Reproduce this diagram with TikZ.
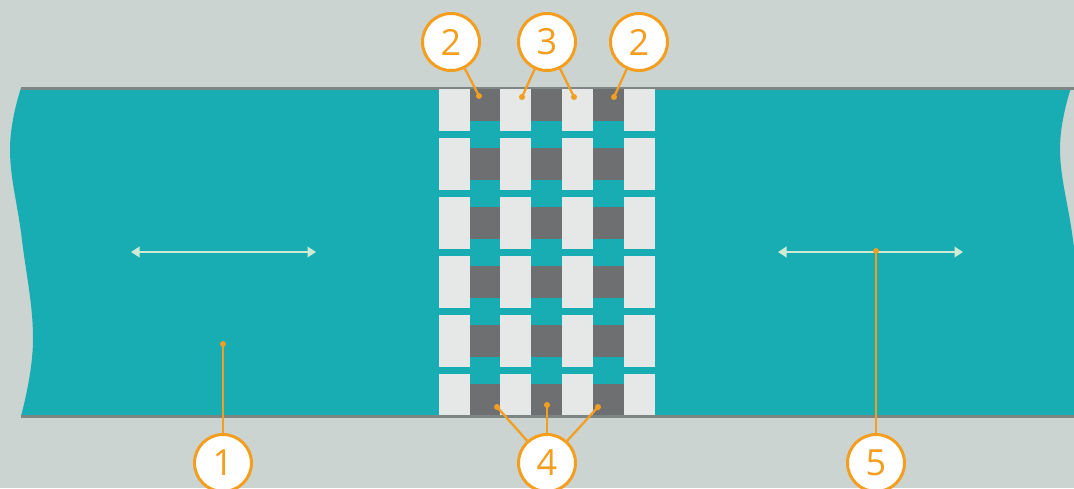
\documentclass[tikz,border=0pt]{standalone}
\usepackage{fontspec}
\setmainfont{Open Sans}
\usetikzlibrary{arrows.meta}
\definecolor{bgcol}{HTML}{CBD4D1}
\definecolor{beltcol}{HTML}{17ADB2}
\definecolor{edgecol}{HTML}{7E8585}
\definecolor{warpcol}{HTML}{E6E7E7}
\definecolor{weftcol}{HTML}{6E6F71}
\definecolor{callcol}{HTML}{F49E1F}
\definecolor{arrowcol}{HTML}{CFEBD5}
\tikzset{
  callout/.style={circle, draw=callcol, line width=1.7pt, fill=white, minimum size=1.14cm, inner sep=0pt, text=callcol, font=\fontsize{20.5}{24}\selectfont},
  leader/.style={draw=callcol, line width=1.3pt},
  tipdot/.style={fill=callcol},
  motion/.style={draw=arrowcol, line width=1.1pt, {Triangle[length=0.17cm, width=0.21cm]}-{Triangle[length=0.17cm, width=0.21cm]}},
}

\begin{document}
\begin{tikzpicture}[x=0.02cm, y=-0.02cm]
  \useasboundingbox (0,0) rectangle (1074,488);
  \fill[bgcol] (0,0) rectangle (1074,488);
  % belt with wavy cut ends
  \begin{scope}
    \clip (0,0) rectangle (1074,488);
    \fill[beltcol] plot[smooth, tension=0.7] coordinates {(21,416) (33,340) (22,240) (10,150) (21,88)}
      -- plot[smooth, tension=0.7] coordinates {(1071,88) (1060,150) (1073,240) (1085,340) (1078,416)} -- cycle;
    \draw[edgecol, line width=1.7pt] (21,88) -- (1074,88);
    \draw[edgecol, line width=1.7pt] (21,416) -- (1074,416);
  \end{scope}
  % splice: weft strips under warp blocks
  \begin{scope}
    \clip (439,89.5) rectangle (655,414.5);
    \foreach \k in {0,...,5}
      \fill[weftcol] (439,89+59*\k) rectangle (655,121+59*\k);
    \foreach \x in {439,500,562,624}
      \foreach \k in {0,...,5}
        \fill[warpcol] (\x,79+59*\k) rectangle (\x+31,131+59*\k);
  \end{scope}
  % motion arrows
  \coordinate (l1) at (131,252);
  \coordinate (l2) at (316,252);
  \coordinate (r1) at (778,252);
  \coordinate (r2) at (963,252);
  \draw[motion] (l1) -- (l2);
  \draw[motion] (r1) -- (r2);
  % callouts
  \node[callout] (c1) at (223,463) {1};
  \node[callout] (c2a) at (451,42) {2};
  \node[callout] (c3) at (547,42) {3};
  \node[callout] (c2b) at (639,42) {2};
  \node[callout] (c4) at (547,463) {4};
  \node[callout] (c5) at (876,463) {5};
  \coordinate (d1) at (223,344);
  \coordinate (d2a) at (479,96);
  \coordinate (d3a) at (522,97);
  \coordinate (d3b) at (574,97);
  \coordinate (d2b) at (614,97);
  \coordinate (d4a) at (497,407);
  \coordinate (d4b) at (547,405);
  \coordinate (d4c) at (598,407);
  \coordinate (d5) at (876,251);
  \foreach \c/\d in {c1/d1, c2a/d2a, c3/d3a, c3/d3b, c2b/d2b, c4/d4a, c4/d4b, c4/d4c, c5/d5} {
    \draw[leader] (\c) -- (\d);
    \fill[tipdot] (\d) circle (3);
  }
\end{tikzpicture}
\end{document}
